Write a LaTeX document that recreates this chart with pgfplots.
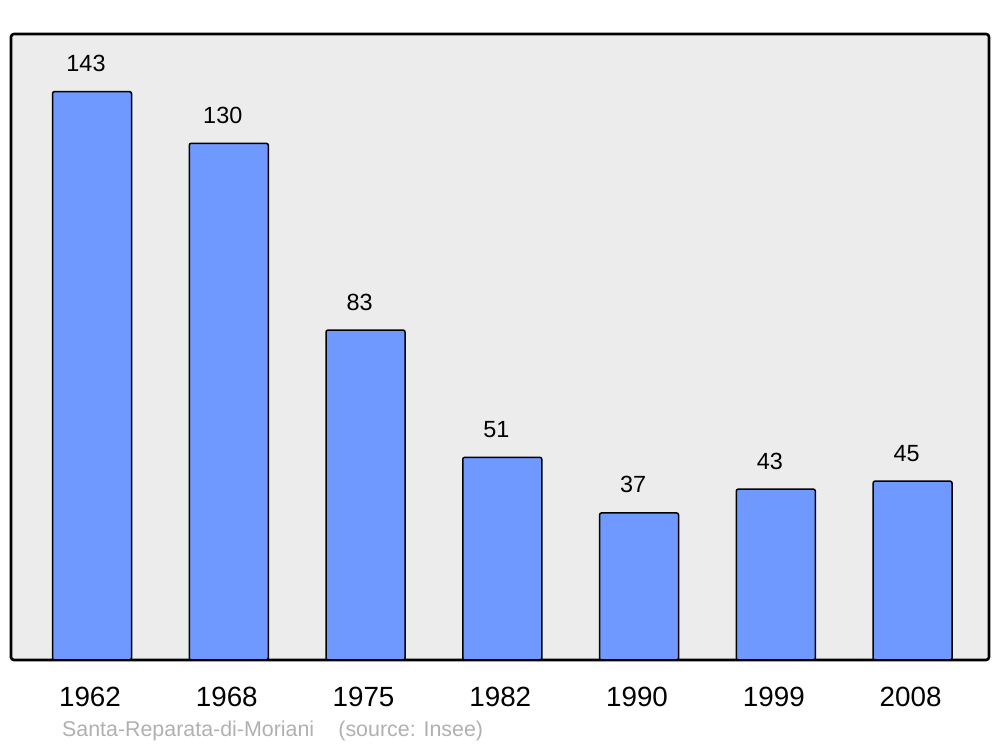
\documentclass[border=0pt]{standalone}
\usepackage{pgfplots}
\pgfplotsset{compat=1.18}
\usepackage{fontspec}
\setmainfont{Liberation Sans}
\definecolor{barfill}{RGB}{112,153,255}
\definecolor{bgfill}{RGB}{236,236,236}
\definecolor{footgrey}{RGB}{176,176,176}
\begin{document}
\begin{tikzpicture}
\useasboundingbox (0,0) rectangle (500pt,373.5pt);
\begin{axis}[
  at={(5.5pt,43.5pt)}, anchor=south west,
  scale only axis, width=489pt, height=313pt,
  xmin=-0.5923, xmax=6.559, ymin=0, ymax=157.5,
  axis background/.style={fill=bgfill, rounded corners=1.5pt},
  axis line style={line width=1.3pt, rounded corners=1.5pt},
  xtick={0,1,2,3,4,5,6},
  xticklabels={1962,1968,1975,1982,1990,1999,2008},
  xtick style={draw=none}, ytick=\empty,
  xticklabel style={font=\fontsize{13.9pt}{16pt}\selectfont, anchor=center, yshift=-14.2pt, xshift=-1pt},
  /pgf/number format/assume math mode=true,
  ybar, bar width=39.5pt,
  nodes near coords,
  nodes near coords style={font=\fontsize{11.7pt}{14pt}\selectfont, anchor=center, yshift=14pt, xshift=-3pt, text=black},
]
\addplot[fill=barfill, draw=black, line width=0.75pt, rounded corners=1pt] coordinates {
(0,143) (1,130) (2,83) (3,51) (4,37) (5,43) (6,45)};
\end{axis}
\node[anchor=base west, inner sep=0pt, text=footgrey, font=\fontsize{10.7pt}{12pt}\selectfont] at (30.85pt,5pt) {Santa-Reparata-di-Moriani};
\node[anchor=base west, inner sep=0pt, text=footgrey, font=\fontsize{10.7pt}{12pt}\selectfont] at (169pt,5pt) {(source: Insee)};
\end{tikzpicture}
\end{document}
